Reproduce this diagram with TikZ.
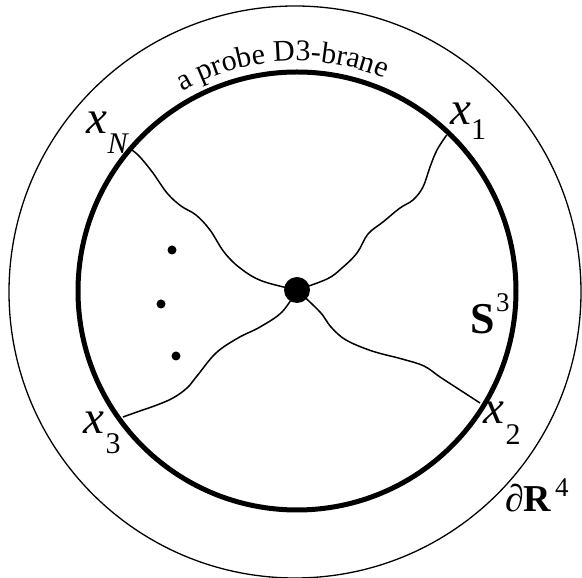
\documentclass[tikz,border=0pt]{standalone}
\usepackage{fontspec}
\setmainfont{Liberation Serif}
\usetikzlibrary{decorations.text}
\tikzset{
  outercirc/.style={line width=1.3pt},
  innercirc/.style={line width=5pt},
  wave/.style={line width=1.5pt, smooth, tension=0.6},
  lbl/.style={anchor=base west, inner sep=0pt, outer sep=0pt},
  dotsmall/.style={circle, fill=black, inner sep=0pt, minimum size=9pt},
}
\begin{document}
\begin{tikzpicture}[x=1pt,y=1pt]
\useasboundingbox (0,0) rectangle (582,578);
% circles
\draw[outercirc] (295,286) circle (286);
\draw[innercirc] (297,287) circle (219);
% arc label
\path[decorate, decoration={text along path, text align=center,
  text={|\fontsize{30}{30}\selectfont|a probe D3-brane}}]
  (297,287) ++(129:230) arc (129:58.5:230);
% endpoints
\coordinate (pN) at (132,428);
\coordinate (p1) at (446.7,443);
\coordinate (p2) at (480,175);
\coordinate (p3) at (123,161);
\coordinate (c) at (297,288);
% wavy lines
\draw[wave] plot coordinates {(pN) (140,421) (153,405) (167,385) (181,372) (196,363) (210,348) (224,326) (240,310) (262,297) (c)};
\draw[wave] plot coordinates {(p1) (437,428) (430,411) (423,391) (413,378) (400,370) (383,356) (368,344) (357,325) (342,310) (327,299) (c)};
\draw[wave] plot coordinates {(p2) (460,188) (440,201) (424,212) (402,219) (372,227) (346,238) (331,251) (320,266) (c)};
\draw[wave] plot coordinates {(p3) (137,166) (157,173) (173,180) (187,190) (197,202) (216,225) (238,240) (260,251) (282,266) (c)};
% central vertex
\node[circle, fill=black, inner sep=0pt, minimum size=26pt] (v) at (c) {};
% dots
\node[dotsmall] (d1) at (172,328) {};
\node[dotsmall] (d2) at (161,274) {};
\node[dotsmall] (d3) at (176,222) {};
% labels
\node[lbl] (x1) at (450,453) {\fontsize{47}{47}\selectfont\itshape x};
\node[lbl] (s1) at (471,438.7) {\fontsize{30}{30}\selectfont 1};
\node[lbl] (xN) at (86.5,444.7) {\fontsize{47}{47}\selectfont\itshape x};
\node[lbl] (sN) at (107.5,424.7) {\fontsize{30}{30}\selectfont\itshape N};
\node[lbl] (x2) at (483,154.7) {\fontsize{47}{47}\selectfont\itshape x};
\node[lbl] (s2) at (505.5,133) {\fontsize{30}{30}\selectfont 2};
\node[lbl] (x3) at (83,144.7) {\fontsize{47}{47}\selectfont\itshape x};
\node[lbl] (s3) at (105.5,124.7) {\fontsize{30}{30}\selectfont 3};
\node[lbl] (S) at (470,244.7) {\fontsize{44}{44}\selectfont\bfseries S};
\node[lbl] (Ssup) at (496,266.3) {\fontsize{27}{27}\selectfont 3};
\node[lbl] (dR) at (505,66.3) {\fontsize{38}{38}\selectfont\itshape ∂};
\node[lbl] (R) at (523,66.3) {\fontsize{38}{38}\selectfont\bfseries R};
\node[lbl] (Rsup) at (555,81) {\fontsize{27}{27}\selectfont 4};
\end{tikzpicture}
\end{document}
